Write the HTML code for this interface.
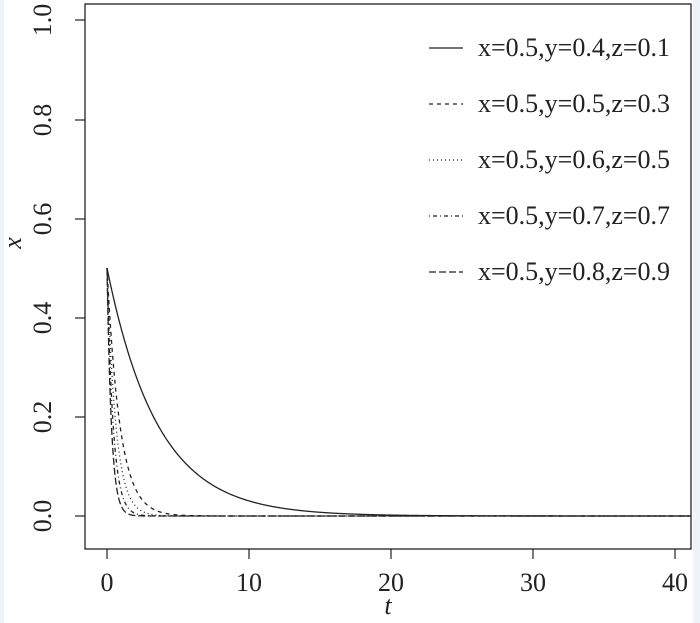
<!DOCTYPE html>
<html><head><style>
html,body{margin:0;padding:0;background:#fff;}
svg{display:block;font-family:"Liberation Serif",serif;}
</style></head><body>
<svg width="700" height="623" viewBox="0 0 700 623">
<defs><clipPath id="c"><rect x="85" y="4" width="606" height="545"/></clipPath></defs>
<rect x="0" y="0" width="700" height="623" fill="#fff"/>
<rect x="0" y="0" width="4" height="623" fill="#eef3fa"/>
<rect x="693" y="0" width="7" height="623" fill="#eef3fa"/>
<rect x="85" y="4" width="606" height="545" fill="none" stroke="#222" stroke-width="1.3"/>
<g stroke="#222" stroke-width="1.2">
<line x1="85" y1="516" x2="75" y2="516"/><line x1="85" y1="417" x2="75" y2="417"/>
<line x1="85" y1="318" x2="75" y2="318"/><line x1="85" y1="219" x2="75" y2="219"/>
<line x1="85" y1="120" x2="75" y2="120"/><line x1="85" y1="20" x2="75" y2="20"/>
<line x1="107" y1="549" x2="107" y2="559"/><line x1="249" y1="549" x2="249" y2="559"/>
<line x1="391" y1="549" x2="391" y2="559"/><line x1="533" y1="549" x2="533" y2="559"/>
<line x1="675" y1="549" x2="675" y2="559"/>
</g>
<g font-size="26" fill="#222" text-anchor="middle">
<text x="107" y="591">0</text><text x="249" y="591">10</text><text x="391" y="591">20</text>
<text x="533" y="591">30</text><text x="675" y="591">40</text>
<text transform="translate(51,516) rotate(-90)">0.0</text>
<text transform="translate(51,417) rotate(-90)">0.2</text>
<text transform="translate(51,318) rotate(-90)">0.4</text>
<text transform="translate(51,219) rotate(-90)">0.6</text>
<text transform="translate(51,120) rotate(-90)">0.8</text>
<text transform="translate(51,20) rotate(-90)">1.0</text>
<text x="388" y="614" font-style="italic">t</text>
<text transform="translate(21,243) rotate(-90)" font-style="italic">x</text>
</g>
<g fill="none" stroke="#222" stroke-width="1.3" id="curves" clip-path="url(#c)"></g>
<g font-size="26" fill="#222">
<text x="478" y="56">x=0.5,y=0.4,z=0.1</text>
<text x="478" y="112">x=0.5,y=0.5,z=0.3</text>
<text x="478" y="168">x=0.5,y=0.6,z=0.5</text>
<text x="478" y="224">x=0.5,y=0.7,z=0.7</text>
<text x="478" y="280">x=0.5,y=0.8,z=0.9</text>
</g>
<g stroke="#222" stroke-width="1.3">
<line x1="429" y1="48" x2="463" y2="48"/>
<line x1="429" y1="104" x2="463" y2="104" stroke-dasharray="4,4"/>
<line x1="429" y1="160" x2="463" y2="160" stroke-dasharray="1,3"/>
<line x1="429" y1="216" x2="463" y2="216" stroke-dasharray="1,3,4,3"/>
<line x1="429" y1="272" x2="463" y2="272" stroke-dasharray="7,3"/>
</g>
<script>
(function(){
var g=document.getElementById('curves');
var specs=[[0.28,''],[1.1,'4,4'],[1.6,'1,3'],[2.3,'1,3,4,3'],[3.2,'7,3']];
specs.forEach(function(s){
 var d='';
 for(var t=0;t<=42;t+=0.02){
  var x=107+t*14.2, y=516-496*0.5*Math.exp(-s[0]*t);
  d+=(t===0?'M':'L')+x.toFixed(2)+','+y.toFixed(2);
 }
 var p=document.createElementNS('http://www.w3.org/2000/svg','path');
 p.setAttribute('d',d);
 if(s[1])p.setAttribute('stroke-dasharray',s[1]);
 g.appendChild(p);
});
})();
</script>
</svg>
</body></html>
